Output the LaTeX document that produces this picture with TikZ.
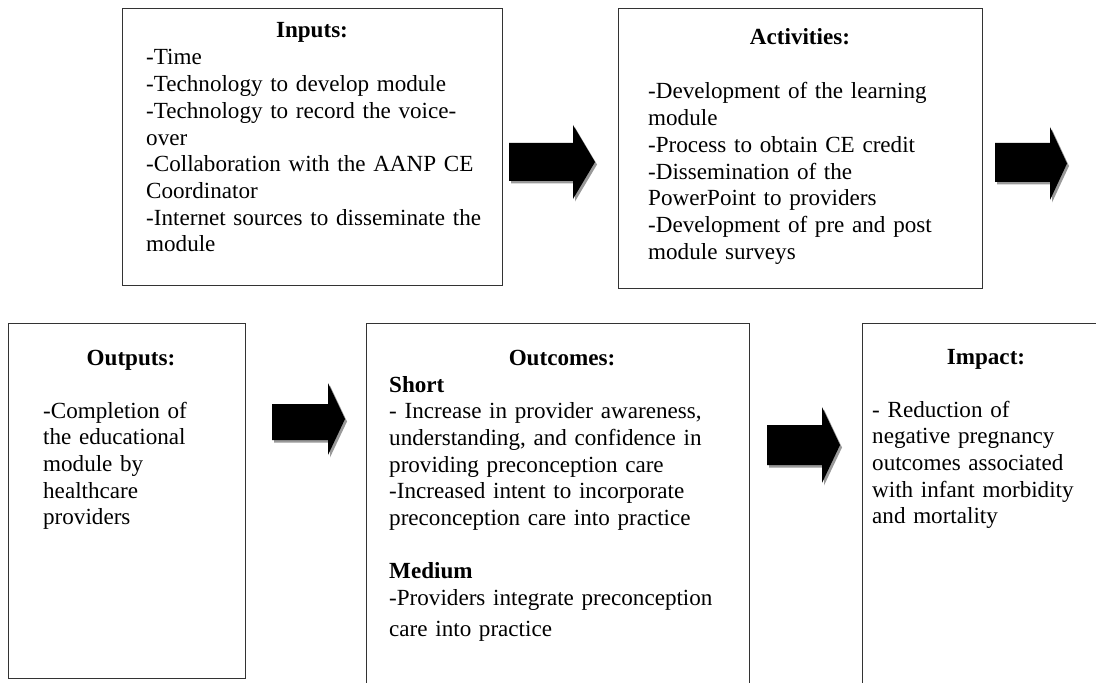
\documentclass[tikz,border=0pt]{standalone}
\usepackage{fontspec}
\setmainfont{Liberation Serif}
\newcommand\dfont{\fontsize{23.1bp}{26.7bp}\selectfont}
\newcommand\blkarrow[7]{%
  \fill[arrowshadow] (#1+2,#4+2.5) -- (#2+2,#4+2.5) -- (#2+2,#6+2.5) -- (#3+2,{(#6+#7)/2+2.5}) -- (#2+2,#7+2.5) -- (#2+2,#5+2.5) -- (#1+2,#5+2.5) -- cycle;
  \fill[black] (#1,#4) -- (#2,#4) -- (#2,#6) -- (#3,{(#6+#7)/2}) -- (#2,#7) -- (#2,#5) -- (#1,#5) -- cycle;
}
\tikzset{
  box/.style={draw=black!80, line width=1.2bp, inner sep=0pt, anchor=north west},
  ttl/.style={font=\dfont\bfseries, anchor=base, inner sep=0pt},
  body/.style={font=\dfont, anchor=base west, inner sep=0pt, text width=400bp, align=left},
  arrowshadow/.style={fill=black!40}
}
\begin{document}
\begin{tikzpicture}[x=1bp, y=-1bp]
\useasboundingbox (0,0) rectangle (1096,683);
\clip (0,0) rectangle (1096,683);
\fill[white] (0,0) rectangle (1096,683);

% boxes
\node[box, minimum width=380bp, minimum height=277bp] (inputs) at (122,8) {};
\node[box, minimum width=364bp, minimum height=280bp] (activities) at (618,8) {};
\node[box, minimum width=237bp, minimum height=355bp] (outputs) at (8,323) {};
\node[box, minimum width=383bp, minimum height=420bp] (outcomes) at (366,323) {};
\node[box, minimum width=280bp, minimum height=420bp] (impact) at (862,323) {};

% titles
\node[ttl] (inputsT) at (312,38) {Inputs:};
\node[ttl] (activitiesT) at (800,45) {Activities:};
\node[ttl] (outputsT) at (131,365) {Outputs:};
\node[ttl] (outcomesT) at (562,365) {Outcomes:};
\node[ttl] (impactT) at (986,364) {Impact:};

% bodies
\node[body] (inputsB) at (146,65) {-Time\\
-Technology to develop module\\
-Technology to record the voice-\\
over\\
-Collaboration with the AANP CE\\
Coordinator\\
-Internet sources to disseminate the\\
module};

\node[body] (activitiesB) at (648,99) {-Development of the learning\\
module\\
-Process to obtain CE credit\\
-Dissemination of the\\
PowerPoint to providers\\
-Development of pre and post\\
module surveys};

\node[body] (outputsB) at (43,418) {-Completion of\\
the educational\\
module by\\
healthcare\\
providers};

\node[body] (outcomesB) at (389,392) {\textbf{Short}\\
- Increase in provider awareness,\\
understanding, and confidence in\\
providing preconception care\\
-Increased intent to incorporate\\
preconception care into practice\\[26.7bp]
\textbf{Medium}\\
-Providers integrate preconception\\[4bp]
care into practice};

\node[body] (impactB) at (872,417) {- Reduction of\\
negative pregnancy\\
outcomes associated\\
with infant morbidity\\
and mortality};

% block arrows
\blkarrow{509}{573}{595}{143}{181}{125}{199}
\blkarrow{995}{1050}{1067}{143}{182}{127}{200}
\blkarrow{272}{328}{345}{404}{440}{383}{455}
\blkarrow{767}{822}{840}{425}{465}{407}{483}
\end{tikzpicture}
\end{document}
